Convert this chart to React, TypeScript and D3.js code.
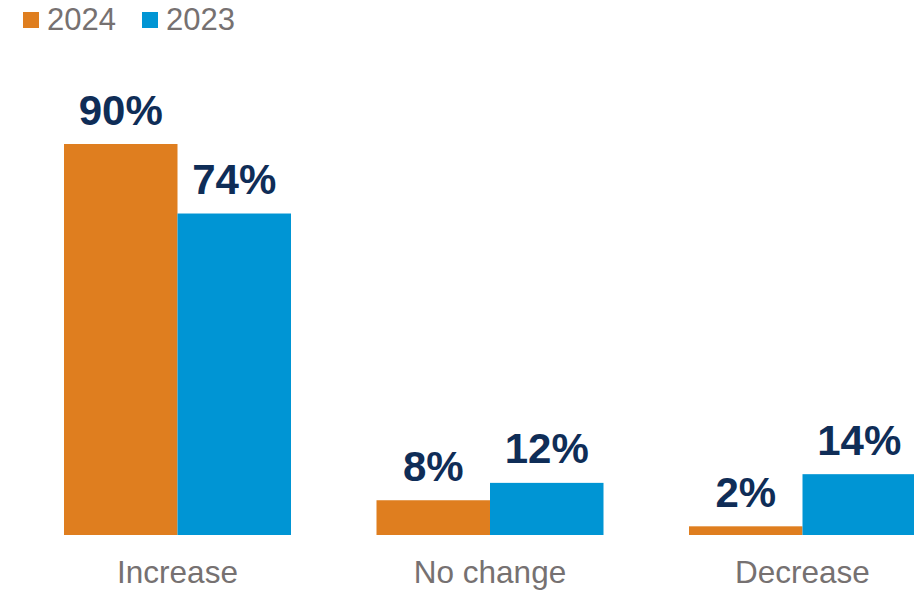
import React from 'react';
import * as d3 from 'd3';

const categories = ['Increase', 'No change', 'Decrease'];
const seriesNames = ['2024', '2023'];
const values2024 = [90, 8, 2];
const values2023 = [74, 12, 14];

const colors = ['#DF7E1F', '#0095D4'];

const App = () => {
  const width = 914;
  const height = 590;
  const baseline = 535;

  // outer scale for the groups, inner one for the two years
  const x0 = d3.scaleBand().domain(categories).range([64, 916]).paddingInner(0.2736);
  const x1 = d3.scaleBand().domain(seriesNames).range([0, x0.bandwidth()]);
  const y = d3.scaleLinear().domain([0, 90]).range([baseline, 144]);

  const data = categories.map((c, i) => ({
    cat: c,
    vals: [
      { s: '2024', v: values2024[i] },
      { s: '2023', v: values2023[i] },
    ],
  }));

  return (
    <svg
      width={width}
      height={height}
      style={{ position: 'absolute', left: 0, top: 0, fontFamily: '"Liberation Sans", Arial, sans-serif' }}
    >
      {/* legend */}
      {seriesNames.map((s, i) => {
        const lx = i === 0 ? 23 : 142;
        return (
          <g key={s}>
            <rect x={lx} y={12} width={16} height={16} fill={colors[i]} />
            <text x={lx + 24} y={30} fontSize={31} fill='#767171'>
              {s}
            </text>
          </g>
        );
      })}

      {data.map((d) => (
        <g key={d.cat} transform={`translate(${x0(d.cat)},0)`}>
          {d.vals.map((b, j) => (
            <g key={b.s}>
              <rect
                x={x1(b.s)}
                y={y(b.v)}
                width={x1.bandwidth()}
                height={baseline - y(b.v)}
                fill={colors[j]}
              />
              <text
                x={x1(b.s)! + x1.bandwidth() / 2}
                y={y(b.v) - 19.5}
                textAnchor='middle'
                fontSize={42}
                fontWeight='bold'
                fill='#0F2D57'
              >
                {b.v}%
              </text>
            </g>
          ))}
          <text
            x={x0.bandwidth() / 2}
            y={583}
            textAnchor='middle'
            fontSize={31.5}
            fill='#767171'
          >
            {d.cat}
          </text>
        </g>
      ))}
    </svg>
  );
};

export default App;
